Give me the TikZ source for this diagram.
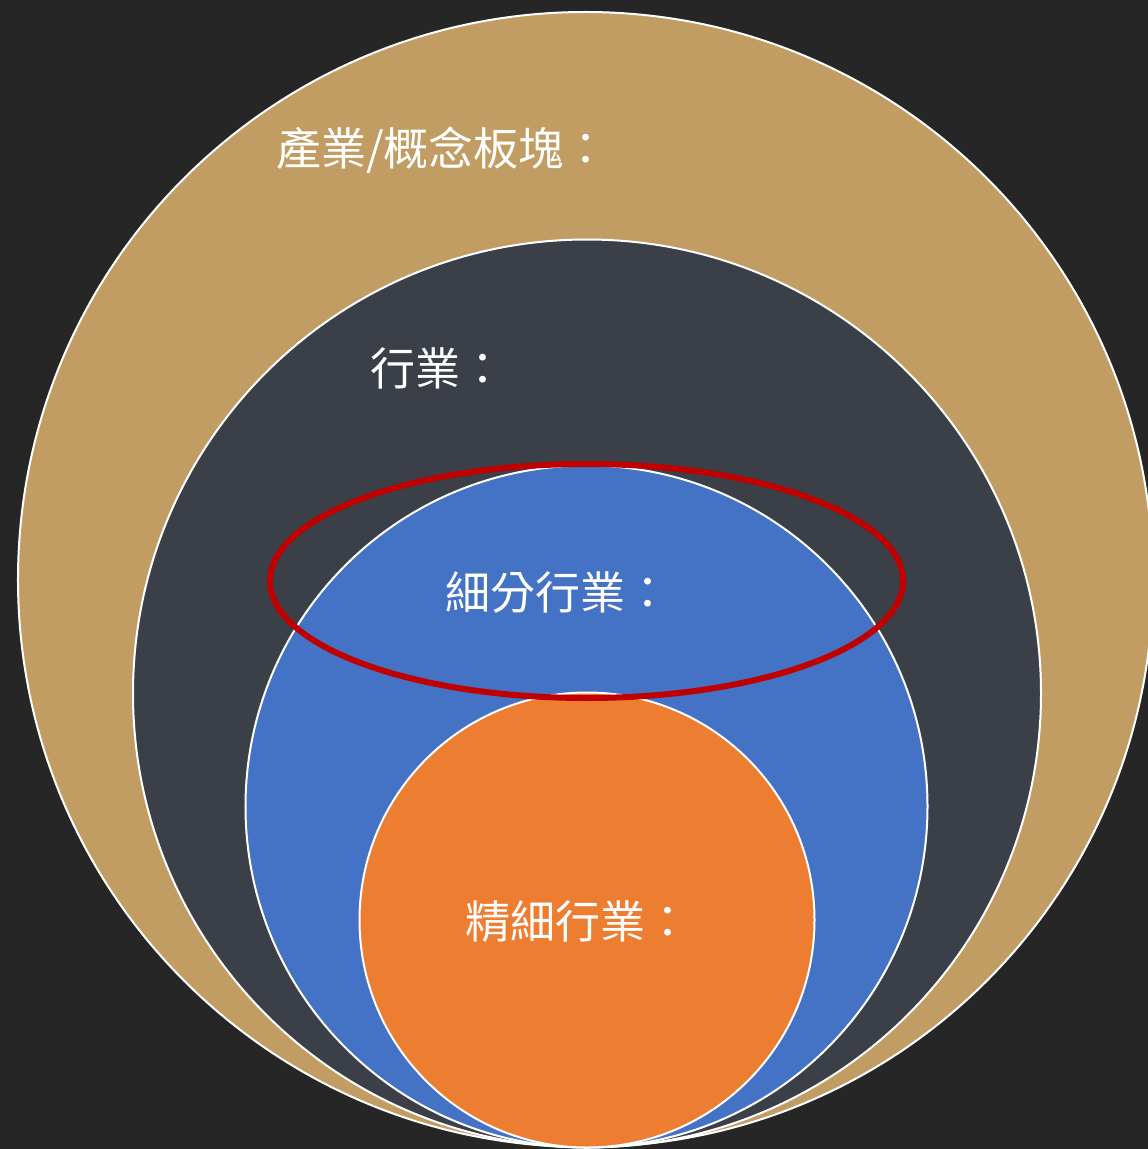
\documentclass[tikz,border=0pt]{standalone}
\usepackage{fontspec}
\newfontfamily\cjk{Noto Sans CJK TC}
\definecolor{bgc}{HTML}{262626}
\definecolor{tanc}{HTML}{C19D64}
\definecolor{darkc}{HTML}{3B4048}
\definecolor{bluec}{HTML}{4472C4}
\definecolor{orangec}{HTML}{ED7D31}
\definecolor{redc}{HTML}{C00000}
\tikzset{
  ring/.style={circle, draw=white, line width=2bp, inner sep=0pt, outer sep=0pt},
  lbl/.style={anchor=west, text=white, inner sep=0pt, font=\cjk\fontsize{45bp}{54bp}\selectfont}
}
\begin{document}
\begin{tikzpicture}[x=1bp,y=-1bp]
\useasboundingbox (0,0) rectangle (1148,1149);
\clip (0,0) rectangle (1148,1149);
\fill[bgc] (0,0) rectangle (1148,1149);
\node[ring, fill=tanc, minimum size=1135bp] (outer) at (585.5,579.5) {};
\node[ring, fill=darkc, minimum size=908bp] (ind) at (587,693.5) {};
\node[ring, fill=bluec, minimum size=682bp] (sub) at (586.5,806.5) {};
\node[ring, fill=orangec, minimum size=455bp] (fine) at (587,920) {};
\node[lbl] (t1) at (276,150) {產業/概念板塊：};
\node[lbl] (t2) at (370,368) {行業：};
\node[lbl] (t3) at (445,592) {細分行業：};
\node[lbl] (t4) at (465,922) {精細行業：};
\draw[redc, line width=6bp] (586.5,581) ellipse [x radius=316.5, y radius=117];
\end{tikzpicture}
\end{document}
